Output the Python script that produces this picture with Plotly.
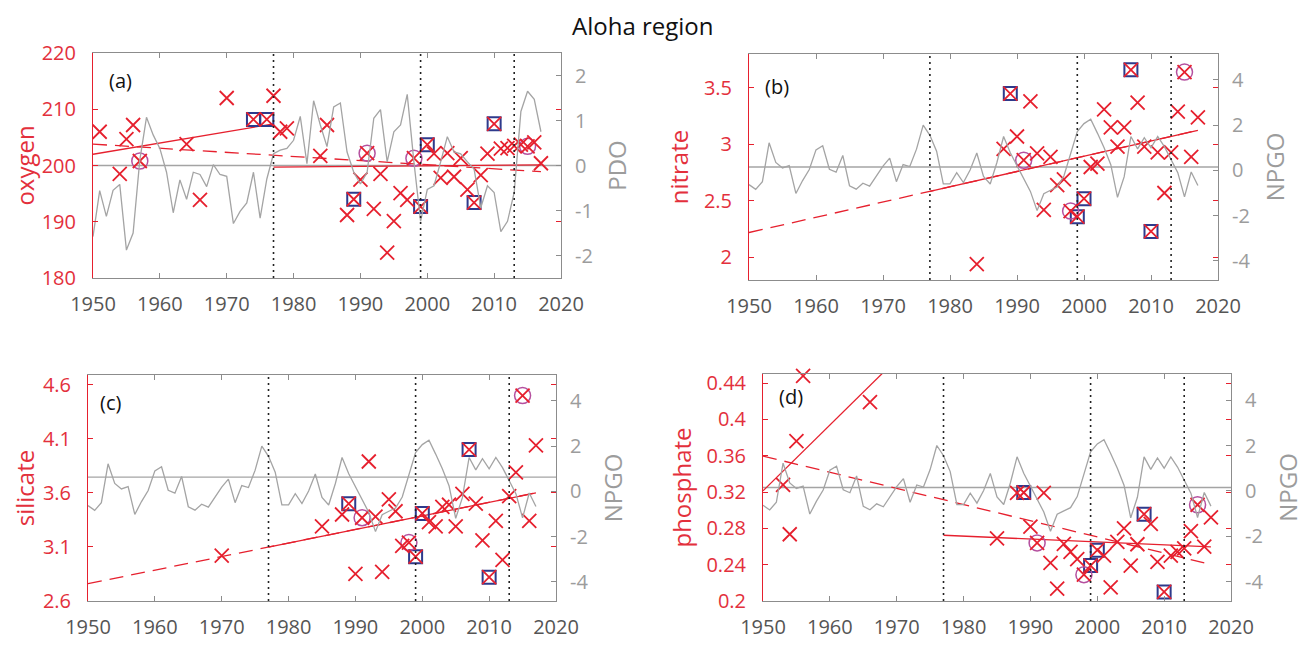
import plotly.graph_objects as go

# ---------------- data ----------------
index_years = list(range(1950, 2018))

pdo = [-1.58, -0.56, -1.13, -0.55, -0.42, -1.88, -1.50, 0.12, 1.07, 0.68,
       0.38, -0.15, -1.05, -0.32, -0.75, -0.15, -0.20, -0.47, 0.02, -0.20,
       -0.24, -1.29, -1.02, -0.83, -0.15, -1.17, -0.30, 0.26, 0.34, 0.38,
       0.56, 1.09, 0.04, 1.44, 0.90, 0.42, 1.30, 1.39, 0.30, -0.15,
       -0.41, -0.15, 1.05, 1.24, 0.08, 0.75, 0.90, 1.58, 0.08, -1.24,
       -0.53, -0.45, 0.08, 0.64, 0.30, 0.26, 0.08, -0.08, -0.94, -0.45,
       -0.60, -1.47, -1.24, -0.60, 1.20, 1.65, 1.47, 0.75]

npgo = [-0.63, -0.84, -0.50, 1.22, 0.35, 0.11, 0.21, -1.02, -0.45, 0.04,
        0.91, 1.09, 0.05, -0.08, 0.66, -0.68, -0.83, -0.57, -0.70, -0.28,
        0.19, 0.54, -0.50, 0.26, 0.17, 0.94, 2.00, 1.55, 0.85, -0.60,
        -0.60, -0.10, -0.54, 0.02, 0.77, -0.27, -0.60, 0.35, 1.50, 0.78,
        0.22, -0.30, -0.93, -1.78, -1.03, -0.88, -0.74, -0.25, 0.70, 1.72,
        2.07, 2.26, 1.65, 1.00, 0.25, -1.19, -0.28, 1.50, 0.95, 1.45,
        1.00, 1.50, 1.05, 0.50, -0.10, -1.17, -0.07, -0.67]

oxygen_years = [1951, 1954, 1955, 1956, 1957, 1964, 1966, 1970, 1974, 1976,
                1977, 1978, 1979, 1984, 1985] + list(range(1988, 2018))
oxygen = [206.0, 198.5, 204.7, 207.2, 200.8, 203.8, 193.9, 212.0, 208.2, 208.2,
          212.4, 206.0, 206.6, 201.7, 207.2,
          191.2, 194.0, 197.5, 202.2, 192.3, 198.5, 184.5, 190.1, 195.1, 193.9,
          201.3, 192.7, 203.7, 202.1, 197.8, 202.2, 198.0, 201.3, 195.7, 193.4,
          198.3, 202.1, 207.4, 203.0, 203.1, 203.5, 203.7, 203.4, 204.1, 200.4]

nitrate_years = [1984] + list(range(1988, 2018))
nitrate = [1.94,
           2.96, 3.45, 3.07, 2.86, 3.38, 2.92, 2.42, 2.89, 2.64, 2.69,
           2.41, 2.36, 2.52, 2.80, 2.83, 3.31, 3.15, 2.98, 3.15, 3.66,
           3.37, 2.98, 2.23, 2.93, 2.57, 2.93, 3.29, 3.64, 2.89, 3.24]

silicate_years = [1970, 1985] + list(range(1988, 2018))
silicate = [3.02, 3.29,
            3.40, 3.50, 2.85, 3.37, 3.89, 3.38, 2.87, 3.54, 3.43, 3.11,
            3.14, 3.01, 3.41, 3.33, 3.29, 3.47, 3.49, 3.29, 3.59, 4.00,
            3.50, 3.16, 2.82, 3.34, 2.98, 3.57, 3.79, 4.50, 3.34, 4.04]

phosphate_years = [1953, 1954, 1955, 1956, 1966, 1985] + list(range(1988, 2018))
phosphate = [0.328, 0.2735, 0.376, 0.448, 0.419, 0.269,
             0.319, 0.3195, 0.282, 0.264, 0.319, 0.242, 0.2136, 0.263, 0.254, 0.246,
             0.229, 0.239, 0.256, 0.250, 0.215, 0.265, 0.280, 0.239, 0.2625, 0.2956,
             0.285, 0.243, 0.210, 0.250, 0.254, 0.258, 0.277, 0.306, 0.260, 0.292]

square_years = [1989, 1999, 2000, 2007, 2010]
circle_years = [1991, 1998, 2015]
oxygen_square_years = [1974, 1976] + square_years
oxygen_circle_years = [1957] + circle_years

shift_years = [1977, 1999, 2013]

# trend lines: (years, values)
oxygen_pre = ([1950, 1977], [202.0, 207.4])
oxygen_full = ([1950, 2017], [203.8, 198.9])
oxygen_post = ([1977, 2017], [199.7, 200.1])
nitrate_full = ([1950, 2017], [2.22, 3.125])
nitrate_post = ([1977, 2017], [2.585, 3.125])
silicate_full = ([1950, 2017], [2.76, 3.60])
silicate_post = ([1977, 2017], [3.098, 3.60])
phosphate_pre = ([1950, 1977], [0.3213, 0.517])
phosphate_full = ([1950, 2017], [0.3596, 0.2403])
phosphate_post = ([1977, 2017], [0.2724, 0.2596])

# gray reference levels (left-axis units)
oxygen_ref = 200.0
nitrate_ref = 2.8
silicate_ref = 3.745
phosphate_ref = 0.325

year_ticks = list(range(1950, 2021, 10))

# ---------------- styling ----------------
W, H = 1314, 646
OFF = 8  # default page margin of the html body
FONT = "Open Sans"
RED = "#E6202E"
RED_TXT = "#E3303C"
GRAY_LINE = "#A4A4A4"
AX_GRAY = "#8C8C8C"
RIGHT_TXT = "#9C9C9C"
XTXT = "#555555"
BLUE = "#2E3A8C"
PURPLE = "#B5509F"


def dx(l, r):
    return [(l - OFF) / W, (r - OFF) / W]


def dy(t, b):
    return [1 - (b - OFF) / H, 1 - (t - OFF) / H]


panels = [
    dict(label="(a)", lab_pos=(0.03, 0.88), xdom=dx(93, 561), ydom=dy(53, 278),
         years=oxygen_years, vals=oxygen, sq=oxygen_square_years, ci=oxygen_circle_years,
         pre=oxygen_pre, full=oxygen_full, post=oxygen_post, ref=oxygen_ref,
         yrange=[180, 220], ytick=[180, 190, 200, 210, 220],
         yticktext=["180", "190", "200", "210", "220"], ylabel="oxygen",
         index=pdo, rrange=[-2.5, 2.5], rtick=[-2, -1, 0, 1, 2],
         rticktext=["-2", "-1", "0", "1", "2"], rlabel="PDO"),
    dict(label="(b)", lab_pos=(0.03, 0.855), xdom=dx(749, 1218), ydom=dy(54, 280),
         years=nitrate_years, vals=nitrate, sq=square_years, ci=circle_years,
         pre=None, full=nitrate_full, post=nitrate_post, ref=nitrate_ref,
         yrange=[1.8, 3.8], ytick=[2, 2.5, 3, 3.5],
         yticktext=["2", "2.5", "3", "3.5"], ylabel="nitrate",
         index=npgo, rrange=[-4.85, 5.15], rtick=[-4, -2, 0, 2, 4],
         rticktext=["-4", "-2", "0", "2", "4"], rlabel="NPGO"),
    dict(label="(c)", lab_pos=(0.021, 0.88), xdom=dx(88, 556), ydom=dy(375, 601),
         years=silicate_years, vals=silicate, sq=square_years, ci=circle_years,
         pre=None, full=silicate_full, post=silicate_post, ref=silicate_ref,
         yrange=[2.6, 4.69], ytick=[2.6, 3.1, 3.6, 4.1, 4.6],
         yticktext=["2.6", "3.1", "3.6", "4.1", "4.6"], ylabel="silicate",
         index=npgo, rrange=[-4.85, 5.15], rtick=[-4, -2, 0, 2, 4],
         rticktext=["-4", "-2", "0", "2", "4"], rlabel="NPGO"),
    dict(label="(d)", lab_pos=(0.03, 0.903), xdom=dx(763, 1231), ydom=dy(374, 601),
         years=phosphate_years, vals=phosphate, sq=square_years, ci=circle_years,
         pre=phosphate_pre, full=phosphate_full, post=phosphate_post, ref=phosphate_ref,
         yrange=[0.2, 0.45], ytick=[0.2, 0.24, 0.28, 0.32, 0.36, 0.4, 0.44],
         yticktext=["0.2", "0.24", "0.28", "0.32", "0.36", "0.4", "0.44"], ylabel="phosphate",
         index=npgo, rrange=[-4.85, 5.15], rtick=[-4, -2, 0, 2, 4],
         rticktext=["-4", "-2", "0", "2", "4"], rlabel="NPGO"),
]

fig = go.Figure()
layout = dict(
    width=W, height=H, autosize=False,
    margin=dict(l=0, r=0, t=0, b=0, pad=0),
    paper_bgcolor="white", plot_bgcolor="white",
    showlegend=False,
    font=dict(family=FONT),
    shapes=[], annotations=[],
)

for i, p in enumerate(panels):
    xa = "x" if i == 0 else f"x{i + 1}"
    yl = "y" if i == 0 else f"y{2 * i + 1}"
    yr = f"y{2 * i + 2}"

    # gray reference line
    fig.add_trace(go.Scatter(x=[1950, 2020], y=[p["ref"], p["ref"]], xaxis=xa, yaxis=yl,
                             mode="lines", line=dict(color=GRAY_LINE, width=1.3),
                             hoverinfo="skip"))
    # trend lines
    fx, fy = p["full"]
    fig.add_trace(go.Scatter(x=fx, y=fy, xaxis=xa, yaxis=yl, mode="lines",
                             line=dict(color=RED, width=1.3, dash="14px,8px"), hoverinfo="skip"))
    for key in ("pre", "post"):
        if p[key] is not None:
            tx, ty = p[key]
            fig.add_trace(go.Scatter(x=tx, y=ty, xaxis=xa, yaxis=yl, mode="lines",
                                     line=dict(color=RED, width=1.3), hoverinfo="skip"))
    # highlighted years
    sq_vals = [p["vals"][p["years"].index(yy)] for yy in p["sq"]]
    ci_vals = [p["vals"][p["years"].index(yy)] for yy in p["ci"]]
    fig.add_trace(go.Scatter(x=p["sq"], y=sq_vals, xaxis=xa, yaxis=yl, mode="markers",
                             marker=dict(symbol="square-open", size=13, color=BLUE,
                                         line=dict(width=2, color=BLUE)), hoverinfo="skip"))
    fig.add_trace(go.Scatter(x=p["ci"], y=ci_vals, xaxis=xa, yaxis=yl, mode="markers",
                             marker=dict(symbol="circle-open", size=16, color=PURPLE,
                                         line=dict(width=1.5, color=PURPLE)), hoverinfo="skip"))
    # data crosses
    fig.add_trace(go.Scatter(x=p["years"], y=p["vals"], xaxis=xa, yaxis=yl, mode="markers",
                             marker=dict(symbol="x-thin-open", size=14, color=RED,
                                         line=dict(width=1.8, color=RED)),
                             cliponaxis=False))
    # climate index (right axis)
    fig.add_trace(go.Scatter(x=index_years, y=p["index"], xaxis=xa, yaxis=yr, mode="lines",
                             line=dict(color=GRAY_LINE, width=1.3), hoverinfo="skip"))

    xkey = "xaxis" if i == 0 else f"xaxis{i + 1}"
    ylkey = "yaxis" if i == 0 else f"yaxis{2 * i + 1}"
    yrkey = f"yaxis{2 * i + 2}"

    layout[xkey] = dict(domain=p["xdom"], range=[1950, 2020], anchor=yl, automargin=False,
                        tickvals=year_ticks, ticks="inside", ticklen=5, tickcolor=AX_GRAY,
                        showline=True, linecolor=AX_GRAY, linewidth=1, mirror="ticks",
                        showgrid=False, zeroline=False, ticklabelstandoff=8,
                        tickfont=dict(size=20, color=XTXT, family=FONT))
    layout[ylkey] = dict(domain=p["ydom"], range=p["yrange"], anchor=xa, automargin=False,
                         tickvals=p["ytick"], ticktext=p["yticktext"],
                         ticks="inside", ticklen=5, tickcolor=RED,
                         showline=True, linecolor=RED, linewidth=1, mirror="ticks",
                         showgrid=False, zeroline=False, ticklabelstandoff=12,
                         tickfont=dict(size=20, color=RED_TXT, family=FONT),
                         title=dict(text=p["ylabel"], standoff=8,
                                    font=dict(size=24, color=RED_TXT, family=FONT)))
    layout[yrkey] = dict(overlaying=yl, side="right", anchor=xa, range=p["rrange"],
                         automargin=False,
                         tickvals=p["rtick"], ticktext=p["rticktext"],
                         ticks="inside", ticklen=5, tickcolor=AX_GRAY,
                         showline=True, linecolor=AX_GRAY, linewidth=1,
                         showgrid=False, zeroline=False, ticklabelstandoff=9,
                         tickfont=dict(size=20, color=RIGHT_TXT, family=FONT),
                         title=dict(text=p["rlabel"], standoff=17,
                                    font=dict(size=24, color=RIGHT_TXT, family=FONT)))

    for sy in shift_years:
        layout["shapes"].append(dict(type="line", xref=xa, yref=f"{yl} domain",
                                     x0=sy, x1=sy, y0=0, y1=1,
                                     line=dict(color="#222222", width=1.6, dash="2px,4px")))
    layout["annotations"].append(dict(text=p["label"], xref=f"{xa} domain", yref=f"{yl} domain",
                                      x=p["lab_pos"][0], y=p["lab_pos"][1],
                                      xanchor="left", yanchor="middle", showarrow=False,
                                      font=dict(size=20, color="#111111", family=FONT)))

layout["annotations"].append(dict(text="Aloha region", xref="paper", yref="paper",
                                  x=(643 - OFF) / W, y=1.0,
                                  xanchor="center", yanchor="top", borderpad=0,
                                  showarrow=False, font=dict(size=24, color="#111111", family=FONT)))

fig.update_layout(**layout)
fig.write_html("out.html")
